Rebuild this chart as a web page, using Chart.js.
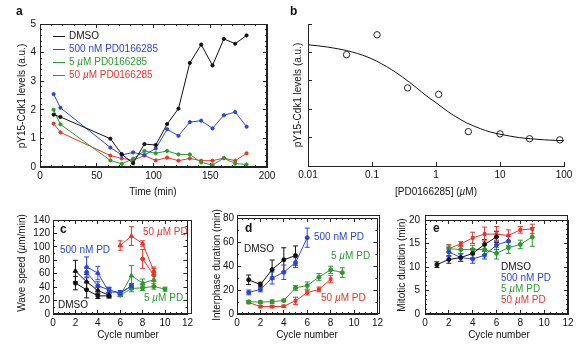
<!DOCTYPE html>
<html>
<head>
<meta charset="utf-8">
<script src="https://cdn.jsdelivr.net/npm/chart.js@4.4.1/dist/chart.umd.min.js"></script>
<style>
body{margin:0;background:#fff;}
#fig{position:relative;width:581px;height:352px;overflow:hidden;font-family:"Liberation Sans",Arial,sans-serif;color:#111;}
#fig canvas{position:absolute;}
.t{position:absolute;font-size:10px;white-space:nowrap;line-height:1;transform:translate(-50%,-50%);}
.rot{transform:translate(-50%,-50%) rotate(-90deg);}
.lbl{position:absolute;font-size:10px;white-space:nowrap;line-height:1;}
.pl{position:absolute;font-weight:bold;font-size:12px;line-height:1;}
.key{position:absolute;height:1px;width:12px;}
.box{position:absolute;box-sizing:border-box;border:1px solid #222;pointer-events:none;}
.ell{position:absolute;box-sizing:border-box;border-left:1px solid #222;border-bottom:1px solid #222;pointer-events:none;}
</style>
</head>
<body>
<div id="fig">
<canvas id="ca" width="285" height="200" style="left:0;top:0"></canvas>
<canvas id="cb" width="291" height="200" style="left:290px;top:0"></canvas>
<canvas id="cc" width="200" height="147" style="left:0;top:205px"></canvas>
<canvas id="cd" width="190" height="147" style="left:200px;top:205px"></canvas>
<canvas id="ce" width="191" height="147" style="left:390px;top:205px"></canvas>

<!-- plot frames -->
<div class="box" style="left:40px;top:24px;width:227px;height:143px"></div>
<div class="ell" style="left:308px;top:24px;width:256px;height:143px"></div>
<div class="box" style="left:53px;top:220px;width:139px;height:94px"></div>
<div class="box" style="left:237px;top:215px;width:143px;height:99px"></div>
<div class="box" style="left:425px;top:215px;width:143px;height:99px"></div>

<div class="pl" style="left:16px;top:5px">a</div>
<div class="pl" style="left:290px;top:5px">b</div>
<div class="pl" style="left:60px;top:223px">c</div>
<div class="pl" style="left:245px;top:222px">d</div>
<div class="pl" style="left:433px;top:222px">e</div>

<div class="t rot" style="left:21.5px;top:96px">pY15-Cdk1 levels (a.u.)</div>
<div class="t" style="left:153px;top:191.5px">Time (min)</div>
<div class="t rot" style="left:297.5px;top:95px">pY15-Cdk1 levels (a.u.)</div>
<div class="t" style="left:436px;top:191.5px">[PD0166285] (<i>µ</i>M)</div>
<div class="t rot" style="left:21.5px;top:263px">Wave speed (<i>µ</i>m/min)</div>
<div class="t" style="left:128px;top:334.5px">Cycle number</div>
<div class="t rot" style="left:216.5px;top:265px">Interphase duration (min)</div>
<div class="t" style="left:307px;top:334.5px">Cycle number</div>
<div class="t rot" style="left:401.5px;top:265px">Mitotic duration (min)</div>
<div class="t" style="left:499px;top:334.5px">Cycle number</div>

<div class="key" style="left:53px;top:36px;background:#111"></div>
<div class="key" style="left:53px;top:49px;background:#2a44dc"></div>
<div class="key" style="left:53px;top:62px;background:#2a9a2e"></div>
<div class="key" style="left:53px;top:75px;background:#e8352a"></div>
<div class="lbl" style="left:69px;top:31px;color:#111">DMSO</div>
<div class="lbl" style="left:69px;top:44px;color:#2a44dc">500 nM PD0166285</div>
<div class="lbl" style="left:69px;top:57px;color:#2a9a2e">5 <i>µ</i>M PD0166285</div>
<div class="lbl" style="left:69px;top:70px;color:#e8352a">50 <i>µ</i>M PD0166285</div>

<div class="lbl" style="left:60px;top:245px;color:#2a44dc">500 nM PD</div>
<div class="lbl" style="left:143px;top:227px;color:#e8352a">50 <i>µ</i>M PD</div>
<div class="lbl" style="left:144px;top:293px;color:#2a9a2e">5 <i>µ</i>M PD</div>
<div class="lbl" style="left:58px;top:300px;color:#111">DMSO</div>

<div class="lbl" style="left:244px;top:244px;color:#111">DMSO</div>
<div class="lbl" style="left:314px;top:232px;color:#2a44dc">500 nM PD</div>
<div class="lbl" style="left:331px;top:251px;color:#2a9a2e">5 <i>µ</i>M PD</div>
<div class="lbl" style="left:321px;top:293px;color:#e8352a">50 <i>µ</i>M PD</div>

<div class="lbl" style="left:501px;top:262px;color:#111">DMSO</div>
<div class="lbl" style="left:501px;top:273px;color:#2a44dc">500 nM PD</div>
<div class="lbl" style="left:501px;top:284px;color:#2a9a2e">5 <i>µ</i>M PD</div>
<div class="lbl" style="left:501px;top:295px;color:#e8352a">50 <i>µ</i>M PD</div>
</div>

<script>
// colours
var black = '#111'
var blue = '#2a44dc'
var green = '#2a9a2e'
var red = '#e8352a'
var ink = '#222'

// panel a: pY15-Cdk1 over time
var timeA = [12, 18, 62, 72, 82, 92, 102, 112, 122, 132, 142, 152, 162, 172, 182]
var aDMSO = [1.83, 1.75, 0.99, 0.45, 0.13, 0.80, 0.77, 1.50, 2.04, 3.64, 4.28, 3.55, 4.48, 4.31, 4.60]
var a500nM = [2.55, 2.07, 0.68, 0.42, 0.51, 0.42, 0.65, 1.32, 1.09, 1.57, 1.62, 1.35, 1.81, 1.92, 1.41]
var a5uM = [2.00, 1.49, 0.23, 0.11, 0.29, 0.56, 0.48, 0.56, 0.44, 0.44, 0.16, 0.07, 0.31, 0.12, 0.09]
var a50uM = [1.52, 1.21, 0.40, 0.30, 0.24, 0.40, 0.23, 0.33, 0.22, 0.30, 0.22, 0.22, 0.31, 0.22, 0.48]

// panel b: dose response
var doseB = [0.04, 0.12, 0.36, 1.1, 3.2, 10, 29, 86]
var levelB = [3.92, 4.62, 2.75, 2.52, 1.21, 1.13, 0.96, 0.92]
var fitX = [0.01, 0.02, 0.05, 0.1, 0.2, 0.3, 0.5, 0.7, 1, 1.5, 2, 3, 5, 7, 10, 20, 30, 50, 100]
var fitY = [4.27, 4.19, 4.01, 3.77, 3.40, 3.13, 2.75, 2.48, 2.23, 1.93, 1.75, 1.52, 1.31, 1.20, 1.12, 1.00, 0.96, 0.92, 0.89]
var bTicks = [0.01, 0.1, 1, 10, 100]
var bTickLabels = ['0.01', '0.1', '1', '10', '100']

// panel c: wave speed (two series per condition)
var cDmsoX = [2, 3, 4, 5]
var cDmsoA = [64, 48, 35, 28]
var cDmsoAErr = [16, 11, 5, 4]
var cDmsoB = [46, 36, 27, 27]
var cDmsoBErr = [10, 12, 4, 3]
var c500X = [3, 4, 5, 6, 7]
var c500A = [70, 61, 33, 32, 41]
var c500AErr = [15, 10, 6, 3, 4]
var c500B = [62, 42, 36, 31, 42]
var c500BErr = [8, 6, 4, 3, 3]
var c5X = [6, 7, 8, 9]
var c5A = [28, 57, 46, 51]
var c5AErr = [2, 15, 6, 10]
var c5BX = [6, 7, 8, 9, 10]
var c5B = [28, 38, 39, 41, 37]
var c5BErr = [2, 5, 4, 4, 3]
var c50X = [6, 7, 8, 9]
var c50A = [102, 116, 105, 64]
var c50AErr = [7, 14, 4, 6]
var c50BX = [8, 9]
var c50B = [82, 58]
var c50BErr = [14, 10]

// panel d: interphase duration
var dDmsoX = [1, 2, 3, 4, 5]
var dDmso = [28.5, 24.5, 37, 45.2, 48.7]
var dDmsoErr = [4, 2, 8, 10, 8]
var d500X = [1, 2, 3, 4, 5, 6]
var d500 = [18, 20.5, 30, 34.8, 42.8, 63.6]
var d500Err = [2, 2, 5, 6, 4, 8]
var d5X = [1, 2, 3, 4, 5, 6, 7, 8, 9]
var d5 = [10.2, 9.9, 10.3, 11.2, 21.8, 23.7, 30.7, 36.8, 34.5]
var d5Err = [1, 1, 1.5, 1, 2, 3, 3, 3, 4]
var d50X = [1, 2, 3, 4, 5, 6, 7, 8]
var d50 = [9.6, 6.2, 6.2, 6.4, 11, 17.8, 20.5, 29]
var d50Err = [1, 1, 1, 1, 3, 2, 2, 3]

// panel e: mitotic duration
var eDmsoX = [1, 2, 3, 4, 5, 6]
var eDmso = [10.5, 11.6, 12.0, 12.9, 14.8, 16.4]
var eDmsoErr = [0.6, 0.8, 0.8, 1, 1, 1.2]
var e500X = [2, 3, 4, 5, 6, 7]
var e500 = [13.2, 12.0, 11.7, 12.5, 14.7, 15.5]
var e500Err = [1, 0.8, 0.9, 0.8, 1, 1]
var e5X = [2, 3, 4, 5, 6, 7, 8, 9]
var e5 = [13.9, 13.7, 13.7, 13.7, 12.9, 14.1, 14.8, 16.4]
var e5Err = [0.8, 0.8, 0.9, 1, 1.2, 1.2, 0.9, 2]
var e50X = [2, 3, 4, 5, 6, 7, 8, 9]
var e50 = [13.9, 14.9, 16.2, 17.0, 17.0, 16.7, 17.9, 18.1]
var e50Err = [0.8, 0.5, 1.2, 1.5, 1.6, 1.2, 0.7, 1.0]

Chart.defaults.font.family = '"Liberation Sans", Arial, sans-serif'
Chart.defaults.font.size = 10
Chart.defaults.color = '#111'

// vertical error bars from dataset.errs, drawn under the lines
var errorBars = {
    id: 'errorBars',
    beforeDatasetsDraw(chart) {
        var ctx = chart.ctx, ys = chart.scales.y
        chart.data.datasets.forEach((ds, i) => {
            if (!ds.errs) return
            var meta = chart.getDatasetMeta(i)
            ctx.save()
            ctx.strokeStyle = ds.borderColor
            ctx.lineWidth = 1
            ctx.beginPath()
            meta.data.forEach((pt, j) => {
                var v = ds.data[j].y, e = ds.errs[j]
                var hi = ys.getPixelForValue(v + e), lo = ys.getPixelForValue(v - e)
                ctx.moveTo(pt.x, hi); ctx.lineTo(pt.x, lo)
                ctx.moveTo(pt.x - 2.5, hi); ctx.lineTo(pt.x + 2.5, hi)
                ctx.moveTo(pt.x - 2.5, lo); ctx.lineTo(pt.x + 2.5, lo)
            })
            ctx.stroke()
            ctx.restore()
        })
    }
}

// one axis; negative tickLength turns the tick marks inwards
function axis(r, pos, size, opt) {
    var horiz = pos === 'bottom' || pos === 'top'
    return {
        type: r.type || 'linear', min: r.min, max: r.max, position: pos, weight: opt.weight || 0,
        grid: {display: true, drawOnChartArea: false, drawTicks: true, tickLength: -opt.len, color: ink, lineWidth: 1},
        border: {display: !!opt.border, color: ink, width: 1},
        ticks: {display: !!opt.labels, stepSize: opt.step, padding: (r.pad || 3) + opt.len,
                maxRotation: 0, autoSkip: false, maxTicksLimit: 100},
        afterFit: s => { if (horiz) s.height = size; else s.width = size }
    }
}

// full set of scales for a panel: labelled axes, opposite frame sides, minor ticks
function scalesFor(xr, yr, box) {
    var sc = {
        x: axis(xr, 'bottom', xr.size, {labels: true, border: true, len: 4, step: xr.step}),
        y: axis(yr, 'left', yr.size, {labels: !yr.hide, border: true, len: 4, step: yr.step})
    }
    if (box) {
        sc.x2 = axis(xr, 'top', 0, {border: true, len: 4, step: xr.step})
        sc.y2 = axis(yr, 'right', 0, {border: true, len: 4, step: yr.step})
    }
    if (xr.minor) {
        sc.xm = axis(xr, 'bottom', 0, {len: 2, step: xr.minor, weight: -1})
        if (box) sc.xm2 = axis(xr, 'top', 0, {len: 2, step: xr.minor, weight: -1})
    }
    if (yr.minor) {
        sc.ym = axis(yr, 'left', 0, {len: 2, step: yr.minor, weight: -1})
        if (box) sc.ym2 = axis(yr, 'right', 0, {len: 2, step: yr.minor, weight: -1})
    }
    return sc
}

function series(xs, ys, errs, color, shape, r) {
    var ds = {
        data: xs.map((x, i) => ({x: x, y: ys[i]})),
        xAxisID: 'x', yAxisID: 'y',
        borderColor: color,
        backgroundColor: color,
        borderWidth: 1,
        pointRadius: r || 2,
        pointStyle: shape || 'circle',
        pointBorderColor: color
    }
    if (errs) ds.errs = errs
    return ds
}

function makeChart(id, padding, scales, datasets) {
    return new Chart(document.getElementById(id), {
        type: 'line',
        data: {datasets: datasets},
        options: {
            responsive: false,
            animation: false,
            events: [],
            layout: {padding: padding},
            plugins: {legend: {display: false}, tooltip: {enabled: false}},
            scales: scales
        },
        plugins: [errorBars]
    })
}

// a
makeChart('ca', {top: 24, right: 18, left: 0, bottom: 0},
    scalesFor({min: 0, max: 200, step: 50, minor: 10, size: 33, pad: 3},
              {min: 0, max: 5, step: 1, minor: 0.2, size: 40, pad: 4}, true), [
    series(timeA, aDMSO, null, black, 'circle', 1.6),
    series(timeA, a500nM, null, blue, 'circle', 1.6),
    series(timeA, a5uM, null, green, 'circle', 1.6),
    series(timeA, a50uM, null, red, 'circle', 1.6)
])

// b
var bScales = scalesFor({type: 'logarithmic', min: 0.01, max: 100, size: 34, pad: 3},
                        {min: 0, max: 5, step: 1, size: 18, hide: true}, false)
bScales.x.afterBuildTicks = s => { s.ticks = bTicks.map(v => ({value: v})) }
bScales.x.ticks.callback = (v, i) => bTickLabels[i]
makeChart('cb', {top: 24, right: 17, left: 0, bottom: 0}, bScales, [
    {data: fitX.map((x, i) => ({x: x, y: fitY[i]})), xAxisID: 'x', yAxisID: 'y',
     borderColor: '#111', borderWidth: 1, pointRadius: 0, cubicInterpolationMode: 'monotone'},
    {data: doseB.map((x, i) => ({x: x, y: levelB[i]})), xAxisID: 'x', yAxisID: 'y',
     showLine: false, pointRadius: 3.2, borderColor: '#222', backgroundColor: '#fff', pointBorderWidth: 1}
])

// c
makeChart('cc', {top: 15, right: 8, left: 0, bottom: 0},
    scalesFor({min: 0, max: 12, step: 2, minor: 0.5, size: 38, pad: 3},
              {min: 0, max: 140, step: 20, minor: 10, size: 53, pad: 3}, true), [
    series(cDmsoX, cDmsoA, cDmsoAErr, black, 'triangle', 2.6),
    series(cDmsoX, cDmsoB, cDmsoBErr, black),
    series(c500X, c500A, c500AErr, blue, 'triangle', 2.6),
    series(c500X, c500B, c500BErr, blue),
    series(c5X, c5A, c5AErr, green, 'triangle', 2.6),
    series(c5BX, c5B, c5BErr, green),
    series(c50X, c50A, c50AErr, red, 'triangle', 2.6),
    series(c50BX, c50B, c50BErr, red)
])

// d
makeChart('cd', {top: 10, right: 10, left: 0, bottom: 0},
    scalesFor({min: 0, max: 12, step: 2, minor: 0.5, size: 38, pad: 3},
              {min: 0, max: 80, step: 20, minor: 10, size: 37, pad: 3}, true), [
    series(dDmsoX, dDmso, dDmsoErr, black),
    series(d500X, d500, d500Err, blue),
    series(d5X, d5, d5Err, green),
    series(d50X, d50, d50Err, red, 'rect', 2)
])

// e
makeChart('ce', {top: 10, right: 13, left: 0, bottom: 0},
    scalesFor({min: 0, max: 12, step: 2, minor: 0.5, size: 38, pad: 3},
              {min: 0, max: 20, step: 5, minor: 1, size: 35, pad: 5}, true), [
    series(eDmsoX, eDmso, eDmsoErr, black),
    series(e500X, e500, e500Err, blue),
    series(e5X, e5, e5Err, green),
    series(e50X, e50, e50Err, red, 'rect', 2)
])
</script>
</body>
</html>
